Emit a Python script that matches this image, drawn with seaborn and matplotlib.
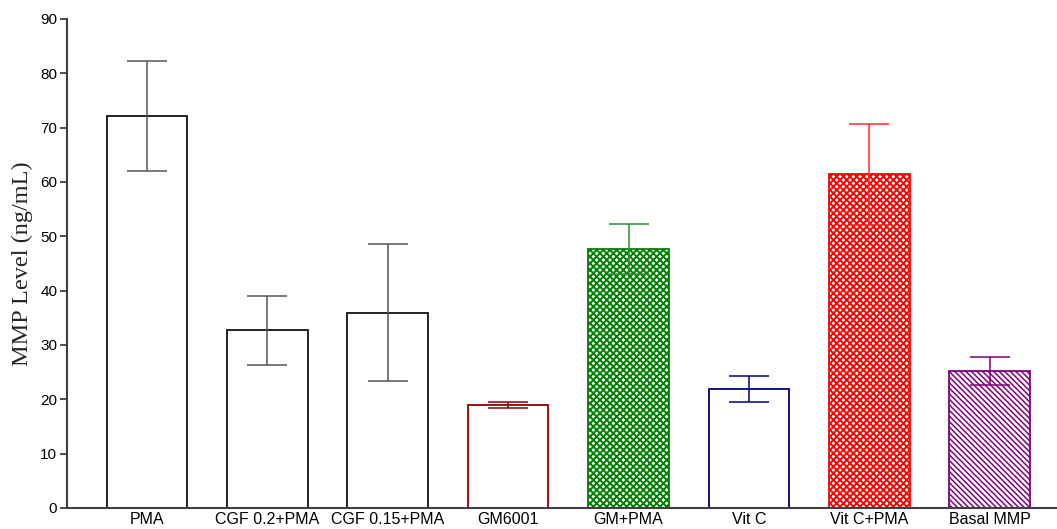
import matplotlib
matplotlib.use("Agg")
import matplotlib.pyplot as plt
import seaborn as sns
import numpy as np

# Group labels, mean MMP levels (ng/mL) and their error-bar half-widths
groups = ["PMA", "CGF 0.2+PMA", "CGF 0.15+PMA", "GM6001", "GM+PMA",
          "Vit C", "Vit C+PMA", "Basal MMP"]
means = [72.1, 32.7, 35.9, 19.0, 47.6, 21.9, 61.4, 25.2]
errors = [10.1, 6.4, 12.6, 0.6, 4.6, 2.4, 9.3, 2.6]

edge_colors = ["#111111", "#111111", "#111111", "#8b0000", "#008000",
               "#000080", "#ff0000", "#800080"]
err_colors = ["#555555", "#555555", "#555555", "#8b0000", "#2e8b2e",
              "#000080", "#ff2a2a", "#800080"]
hatches = [None, None, None, None, "xxxxx", None, "xxxxx", "\\" * 6]
hatch_widths = [1.0, 1.0, 1.0, 1.0, 1.4, 1.0, 1.4, 1.1]

sns.set_theme(style="ticks")
plt.rcParams["font.family"] = ["Liberation Sans", "DejaVu Sans"]
plt.rcParams["hatch.linewidth"] = 1.4

fig = plt.figure(figsize=(10.57, 5.29), dpi=100)
ax = fig.add_axes([0.0634, 0.0397, 0.9366, 0.9244])

sns.barplot(x=groups, y=means, color="white", width=0.67,
            edgecolor="black", linewidth=1.3, errorbar=None, ax=ax)

for patch, ec, h, hw in zip(ax.patches, edge_colors, hatches, hatch_widths):
    patch.set_facecolor("white")
    patch.set_edgecolor(ec)
    if h:
        patch.set_hatch(h)
        if hasattr(patch, "set_hatch_linewidth"):
            patch.set_hatch_linewidth(hw)

xpos = np.arange(len(groups))
for x, m, e, c in zip(xpos, means, errors, err_colors):
    ax.errorbar(x, m, yerr=e, fmt="none", ecolor=c, elinewidth=1.1,
                capsize=14.5, capthick=1.1, zorder=5)

ax.set_xlim(-0.665, 7.56)
ax.set_ylim(0, 90)
ax.set_yticks(range(0, 91, 10))
ax.set_ylabel("MMP Level (ng/mL)", family=["Liberation Serif", "DejaVu Serif"],
              fontsize=17.5, labelpad=5)
ax.set_xlabel("")

for side in ["top", "right"]:
    ax.spines[side].set_visible(False)
for side in ["left", "bottom"]:
    ax.spines[side].set_color("#404040")
    ax.spines[side].set_linewidth(1.5)

ax.tick_params(axis="y", direction="out", length=5, width=1.3, color="#404040",
               labelsize=11, pad=2, labelcolor="black")
ax.tick_params(axis="x", length=0, labelsize=11.5, pad=3, labelcolor="black")

fig.savefig("out.png", dpi=100)
